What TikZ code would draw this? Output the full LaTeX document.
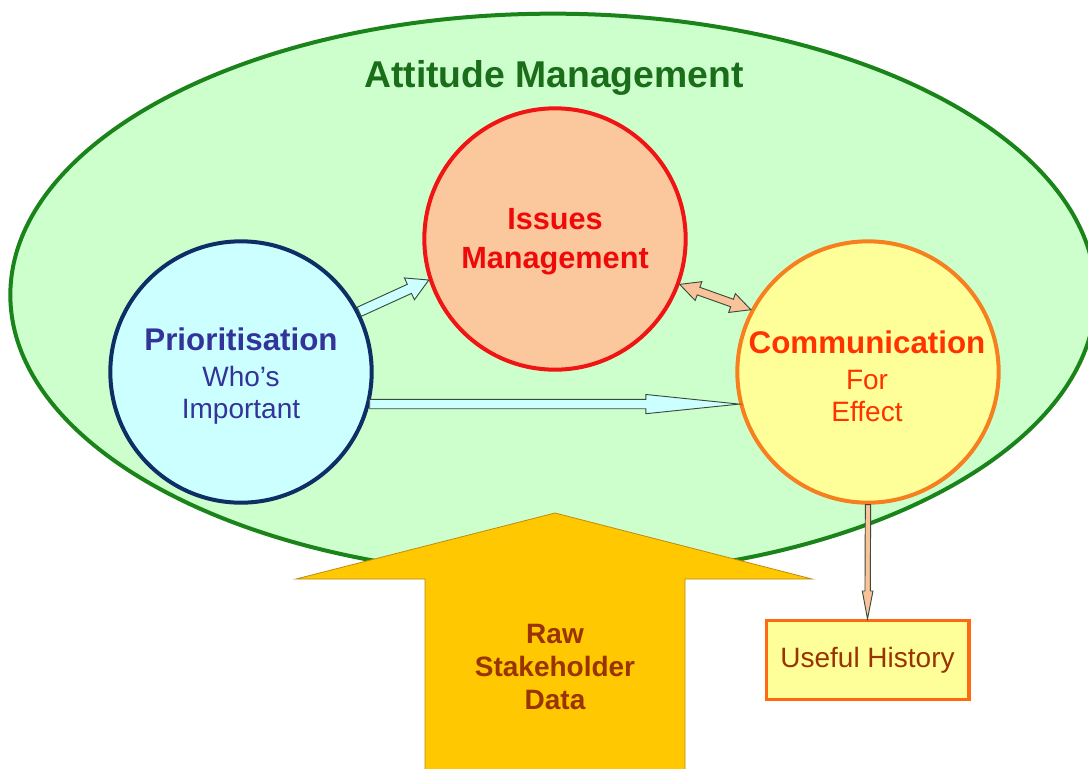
\documentclass[tikz,border=0pt]{standalone}
\usepackage{fontspec}
\setmainfont{Liberation Sans}
\usetikzlibrary{shapes.geometric,calc}
\definecolor{elfill}{HTML}{CCFFCC}
\definecolor{elline}{HTML}{1A841A}
\definecolor{titlegreen}{HTML}{1A6E1A}
\definecolor{issfill}{HTML}{FAC89C}
\definecolor{issline}{HTML}{F01414}
\definecolor{isstext}{HTML}{EE0A0A}
\definecolor{prifill}{HTML}{CCFFFF}
\definecolor{priline}{HTML}{0E2E66}
\definecolor{pritext}{HTML}{333399}
\definecolor{comfill}{HTML}{FFFF99}
\definecolor{comline}{HTML}{F7801E}
\definecolor{comtext}{HTML}{FF3300}
\definecolor{arrline}{HTML}{3C4A3C}
\definecolor{peach}{HTML}{F8C39A}
\definecolor{gold}{HTML}{FFC800}
\definecolor{goldline}{HTML}{C08A10}
\definecolor{brown}{HTML}{993300}
\definecolor{boxline}{HTML}{FF6A10}

\newcommand{\blockarr}[6]{% start, tip, shaft half-width, head half-width, head length, style
  \coordinate (bh) at ($(#2)!#5!(#1)$);
  \draw[#6] ($(#1)!#3!90:(#2)$) -- ($(bh)!#3!90:(#2)$) -- ($(bh)!#4!90:(#2)$) -- (#2)
    -- ($(bh)!#4!-90:(#2)$) -- ($(bh)!#3!-90:(#2)$) -- ($(#1)!#3!-90:(#2)$) -- cycle;}
\newcommand{\dblockarr}[6]{% end a, end b, shaft half-width, head half-width, head length, style
  \coordinate (bha) at ($(#1)!#5!(#2)$);
  \coordinate (bhb) at ($(#2)!#5!(#1)$);
  \draw[#6] (#1) -- ($(bha)!#4!90:(#2)$) -- ($(bha)!#3!90:(#2)$) -- ($(bhb)!#3!90:(#2)$)
    -- ($(bhb)!#4!90:(#2)$) -- (#2) -- ($(bhb)!#4!-90:(#2)$) -- ($(bhb)!#3!-90:(#2)$)
    -- ($(bha)!#3!-90:(#2)$) -- ($(bha)!#4!-90:(#2)$) -- cycle;}

\begin{document}
\begin{tikzpicture}[x=0.75pt,y=-0.75pt,
  bigcirc/.style={circle, minimum size=196pt, inner sep=0pt, line width=3pt},
  circtext/.style={align=center, inner sep=0pt, font=\fontsize{21}{24}\selectfont},
  blockline/.style={draw=arrline, line width=0.7pt, line join=miter},
  ]
\useasboundingbox (0,0) rectangle (1088,768);
\clip (0,0) rectangle (1088,768);
\fill[white] (0,0) rectangle (1088,768);

% Attitude management ellipse
\node[ellipse, draw=elline, fill=elfill, line width=3pt, minimum width=814pt,
      minimum height=422pt, inner sep=0pt] (E) at (553,295) {};
\node[font=\bfseries\fontsize{28}{32}\selectfont, text=titlegreen] (T) at (554,78) {Attitude Management};

% circles
\node[bigcirc, draw=issline, fill=issfill] (I) at (555,239) {};
\node[bigcirc, draw=priline, fill=prifill] (P) at (241,372) {};
\node[bigcirc, draw=comline, fill=comfill] (C) at (868,372) {};

\node[circtext, text=isstext, font=\bfseries\fontsize{23}{27}\selectfont] (It) at ($(I.center)+(0,3)$)
  {Issues\\[2pt]Management};
\node[circtext, text=pritext] (Pt) at ($(P.center)+(0,4)$)
  {{\bfseries\fontsize{23.5}{27}\selectfont Prioritisation}\\[3pt] Who’s\\ Important};
\node[circtext, text=comtext] (Ct) at ($(C.center)+(-1,4)$)
  {{\bfseries\fontsize{23.5}{27}\selectfont Communication}\\[3pt] For\\ Effect};

% connectors between circles
\blockarr{P.27}{I.198}{3.75pt}{9pt}{16pt}{blockline, fill=prifill}
\blockarr{P.-14}{C.194}{3.5pt}{7.2pt}{70pt}{blockline, fill=prifill}
\dblockarr{I.-20}{C.152}{3pt}{7.5pt}{15pt}{blockline, fill=peach}

% big input arrow
\draw[fill=gold, draw=goldline, line width=0.6pt] (425,775) -- (425,579) -- (296,579) -- (555,513)
  -- (812,579) -- (685,579) -- (685,775) -- cycle;
\node[font=\bfseries\fontsize{21}{24.75}\selectfont, text=brown, align=center] (R) at (555,667)
  {Raw\\Stakeholder\\Data};

% useful history box
\node[draw=boxline, fill=comfill, line width=2.5pt, minimum width=152pt, minimum height=59pt,
      font=\fontsize{21}{24}\selectfont, text=brown, inner sep=0pt] (U) at (867.5,660) {Useful History};
\blockarr{C.south}{U.north}{2pt}{4pt}{21pt}{blockline, fill=peach}
\end{tikzpicture}
\end{document}
